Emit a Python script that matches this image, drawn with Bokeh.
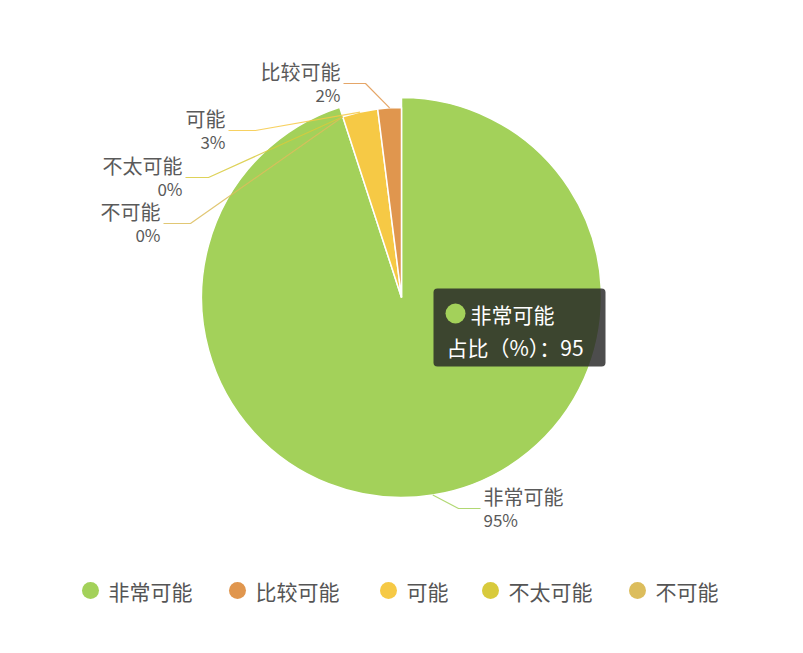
import math
from bokeh.plotting import figure
from bokeh.models import Range1d, BoxAnnotation
from bokeh.core.properties import value
from bokeh.embed import file_html
from bokeh.resources import INLINE

# legend order
categories = ["非常可能", "比较可能", "可能", "不太可能", "不可能"]
percent = [95, 2, 3, 0, 0]
colors = ["#a3d15a", "#e0964e", "#f6c945", "#d8ca3c", "#dcbd5c"]
# order of the slices, clockwise from 12 o'clock
slice_order = ["非常可能", "不可能", "不太可能", "可能", "比较可能"]
hovered = "非常可能"
tip_name = "占比（%）"

FONT = value("Noto Sans CJK SC")
W, H = 787, 637
CX, CY = 401, 297
R = 190
R_HOVER = 200

# label elbow (x, y) and end of the horizontal leader, screen pixels
label_pos = {
    "比较可能": (365, 83, 343),
    "可能": (255, 130, 228),
    "不太可能": (208, 177, 185),
    "不可能": (190, 223, 163),
    "非常可能": (458, 508, 480),
}
legend_x = [90, 237, 388, 490, 637]
legend_y = 590


def Y(y):
    # screen pixel row -> data y
    return 653 - y


p = figure(width=W, height=H,
           x_range=Range1d(0, W), y_range=Range1d(653 - H, 653),
           output_backend="svg", toolbar_location=None,
           min_border=0, outline_line_color=None,
           background_fill_color="white")
p.axis.visible = False
p.grid.visible = False

color_of = dict(zip(categories, colors))
pct_of = dict(zip(categories, percent))
total = float(sum(percent))

#slices
cum = 0.0
mids = {}
for cat in slice_order:
    f = pct_of[cat] / total
    a0 = math.pi / 2 - 2 * math.pi * cum
    a1 = math.pi / 2 - 2 * math.pi * (cum + f)
    r = R_HOVER if cat == hovered else R
    if f > 0:
        p.wedge(x=CX, y=Y(CY), radius=r, start_angle=a0, end_angle=a1,
                direction="clock", fill_color=color_of[cat],
                line_color="white", line_width=1.5)
    mids[cat] = (a0 + a1) / 2, r
    cum += f

#label lines and labels
for cat in slice_order:
    m, r = mids[cat]
    sx = CX + r * math.cos(m)
    sy = Y(CY) + r * math.sin(m)
    ex, ey, hx = label_pos[cat]
    p.line([sx, ex, hx], [sy, Y(ey), Y(ey)],
           line_color=color_of[cat], line_width=1.2, line_alpha=0.85)
    right = hx > ex
    tx = hx + 3 if right else hx - 3
    align = "left" if right else "right"
    p.text(x=[tx], y=[Y(ey - 12)], text=[cat], text_font=FONT,
           text_font_size="20px", text_color="#5a5a5a",
           text_align=align, text_baseline="middle")
    p.text(x=[tx], y=[Y(ey + 11)], text=["%d%%" % pct_of[cat]],
           text_font=FONT, text_font_size="17px", text_color="#5a5a5a",
           text_align=align, text_baseline="middle")

#legend
for cat, lx in zip(categories, legend_x):
    p.scatter(x=[lx], y=[Y(legend_y)], size=17, marker="circle",
              fill_color=color_of[cat], line_color=None)
    p.text(x=[lx + 18], y=[Y(legend_y)], text=[cat], text_font=FONT,
           text_font_size="21px", text_color="#555555",
           text_align="left", text_baseline="middle")

#tooltip of the hovered slice
tip = BoxAnnotation(left=433, right=605, top=Y(288), bottom=Y(366),
                    fill_color="#262626", fill_alpha=0.82,
                    line_color=None, border_radius=4)
p.add_layout(tip)
c = p.scatter(x=[455], y=[Y(313)], size=20, marker="circle",
              fill_color=color_of[hovered], line_color=None)
c.level = "overlay"
t1 = p.text(x=[470], y=[Y(313)], text=[hovered], text_font=FONT,
            text_font_size="21px", text_color="white",
            text_align="left", text_baseline="middle")
t1.level = "overlay"
t2 = p.text(x=[446], y=[Y(346)], text=["%s：%d" % (tip_name, pct_of[hovered])],
            text_font=FONT, text_font_size="21px", text_color="white",
            text_align="left", text_baseline="middle")
t2.level = "overlay"

open("out.html", "w").write(file_html(p, INLINE))
